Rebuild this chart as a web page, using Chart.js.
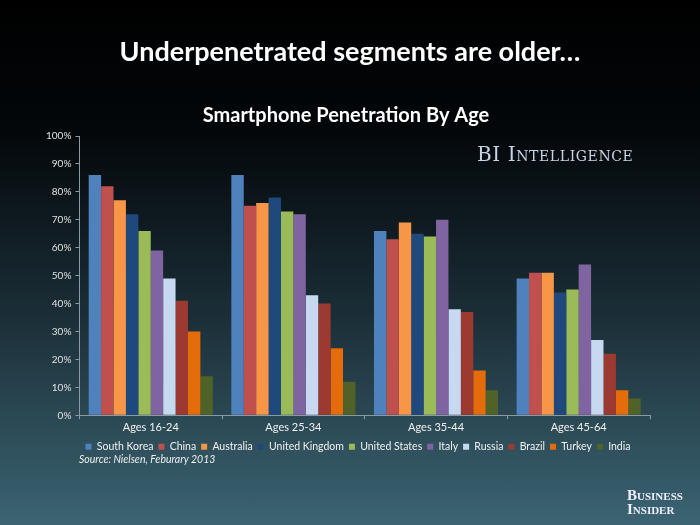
<!DOCTYPE html>
<html>
<head>
<meta charset="utf-8">
<script src="https://cdn.jsdelivr.net/npm/chart.js@4"></script>
<style>
  html, body { margin: 0; padding: 0; }
  body {
    width: 700px; height: 525px; overflow: hidden; position: relative;
    background: linear-gradient(to bottom, #000000 0%, #03070a 25%, #1b2e37 60%, #3b6472 100%);
    font-family: Lato, "Open Sans", sans-serif;
  }
  #wrap { position: absolute; left: 0; top: 0; width: 700px; height: 525px; }
  .txt { position: absolute; color: #fff; }
  #title { left: 0; width: 700px; top: 34px; text-align: center; font-size: 27px; font-weight: bold; }
  #bi { left: 477px; top: 142px; font-family: "DejaVu Serif", "Liberation Serif", serif; font-variant: small-caps; font-size: 20px; color: #c8d3e6; letter-spacing: 0.6px; }
  #source { left: 79px; top: 453px; font-size: 10.5px; font-style: italic; color: #eee; }
  #logo { left: 627px; top: 488px; font-family: "Liberation Serif", "DejaVu Serif", serif; font-variant: small-caps; font-size: 15px; line-height: 14px; color: #eef; text-align: left; font-weight: bold; }
</style>
</head>
<body>
<div id="wrap"><canvas id="c" width="700" height="525"></canvas></div>
<div class="txt" id="title">Underpenetrated segments are older…</div>
<div class="txt" id="bi">BI Intelligence</div>
<div class="txt" id="source">Source: Nielsen, Feburary 2013</div>
<div class="txt" id="logo">Business<br>Insider</div>
<script>
const categories = ['Ages 16-24', 'Ages 25-34', 'Ages 35-44', 'Ages 45-64'];
const countries = ['South Korea', 'China', 'Australia', 'United Kingdom', 'United States', 'Italy', 'Russia', 'Brazil', 'Turkey', 'India'];
const southKorea = [86, 86, 66, 49];
const china = [82, 75, 63, 51];
const australia = [77, 76, 69, 51];
const unitedKingdom = [72, 78, 65, 44];
const unitedStates = [66, 73, 64, 45];
const italy = [59, 72, 70, 54];
const russia = [49, 43, 38, 27];
const brazil = [41, 40, 37, 22];
const turkey = [30, 24, 16, 9];
const india = [14, 12, 9, 6];
const yTicks = [0, 10, 20, 30, 40, 50, 60, 70, 80, 90, 100];

const seriesValues = [southKorea, china, australia, unitedKingdom, unitedStates, italy, russia, brazil, turkey, india];
const colors = ['#4f81bd', '#c0504d', '#f79646', '#1f497d', '#9bbb59', '#8064a2', '#c6d9f1', '#9c3a32', '#e46c0a', '#4f6228'];

var datasets = [];
for (var i = 0; i < countries.length; i++) {
    datasets.push({
        label: countries[i],
        data: seriesValues[i],
        backgroundColor: colors[i],
        categoryPercentage: 0.87,
        barPercentage: 1.0
    });
}

// nudge the legend a bit right, like in the original slide
const legendShift = {
    id: 'legendShift',
    afterUpdate: chart => {
        chart.legend.left += 12;
        chart.legend.right += 12;
    }
};

new Chart(document.getElementById('c').getContext('2d'), {
    type: 'bar',
    data: { labels: categories, datasets: datasets },
    plugins: [legendShift],
    options: {
        responsive: false,
        animation: false,
        layout: { padding: { top: 104, left: 42, right: 50, bottom: 63 } },
        plugins: {
            title: {
                display: true,
                text: 'Smartphone Penetration By Age',
                color: '#ffffff',
                font: { family: 'Lato', size: 20, weight: 'bold' },
                padding: { top: 0, bottom: 8 }
            },
            legend: {
                position: 'bottom',
                labels: {
                    color: '#f0f0f0',
                    boxWidth: 6,
                    boxHeight: 6,
                    padding: 5,
                    font: { family: 'Lato', size: 10.5 }
                }
            },
            tooltip: { enabled: false }
        },
        scales: {
            x: {
                grid: { drawOnChartArea: false, color: '#8a9aa0', tickLength: 4 },
                border: { color: '#8a9aa0' },
                ticks: { color: '#f0f0f0', font: { family: 'Lato', size: 11 }, padding: 2 }
            },
            y: {
                min: 0, max: 100,
                afterBuildTicks: axis => { axis.ticks = yTicks.map(v => ({ value: v })); },
                grid: { drawOnChartArea: false, color: '#8a9aa0', tickLength: 4 },
                border: { color: '#8a9aa0' },
                ticks: {
                    color: '#e0e0e0',
                    font: { family: 'Lato', size: 10 },
                    padding: 4,
                    callback: v => v + '%'
                }
            }
        }
    }
});
</script>
</body>
</html>
